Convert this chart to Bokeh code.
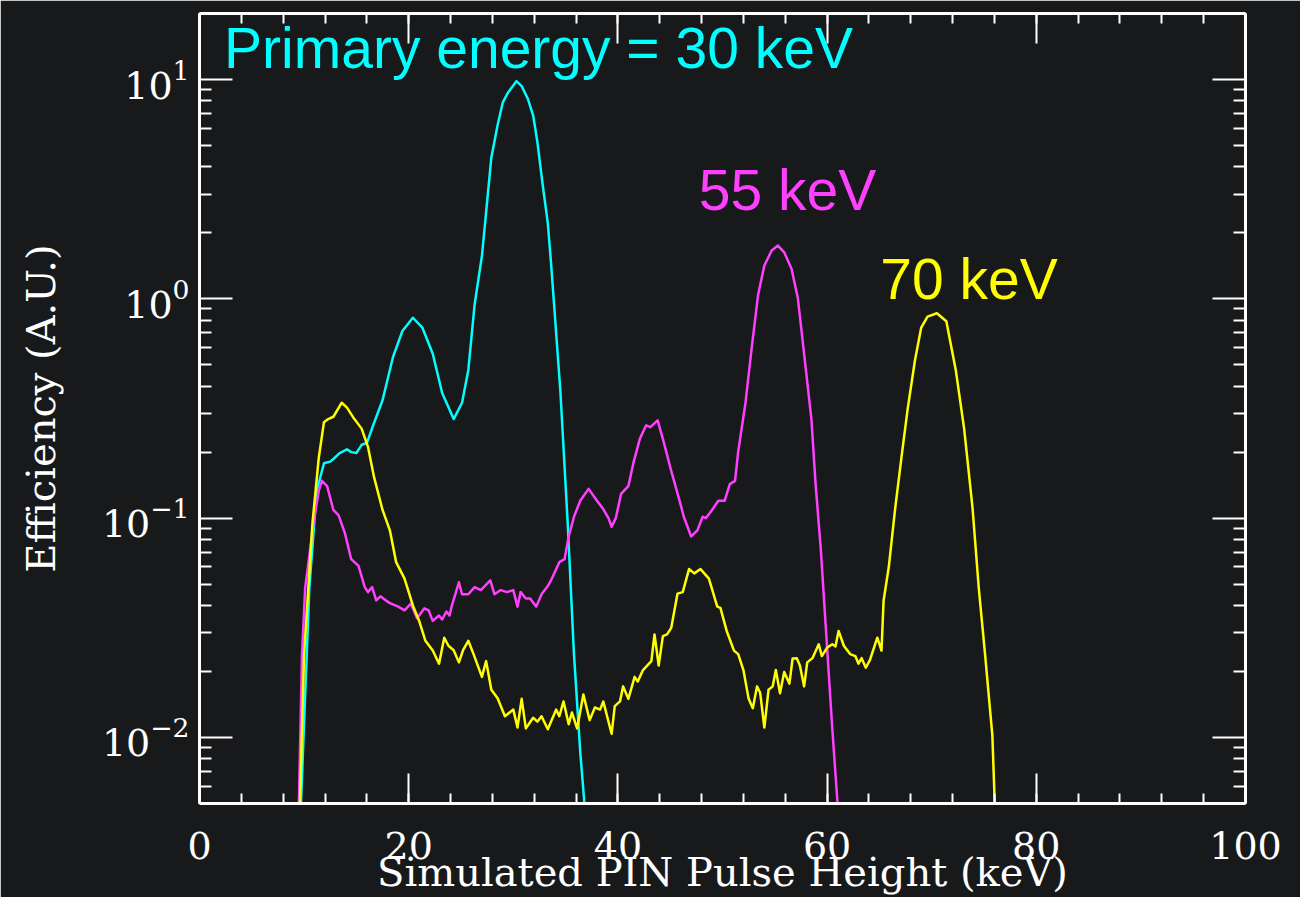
from bokeh.plotting import figure
from bokeh.models import (Range1d, FixedTicker, SingleIntervalTicker, LinearAxis,
                          LogAxis, Label, CustomJSTickFormatter)
from bokeh.embed import file_html
from bokeh.resources import INLINE

# ---------------- data ----------------
cyan_x = [9.5, 9.7, 10.5, 11.2, 11.9, 12.5, 12.9, 13.4, 14.1, 14.5, 15.0, 15.5, 16.0,
          16.6, 17.5, 18.5, 19.4, 20.4, 21.3, 22.3, 23.2, 24.3, 25.1, 25.7, 26.3,
          27.0, 27.3, 27.6, 27.9, 28.5, 29.0, 29.5, 30.3, 30.8, 31.4, 31.9, 32.3,
          32.8, 33.3, 33.6, 33.9, 34.5, 35.2, 35.8, 36.4, 36.8, 37.0]
cyan_y = [0.003, 0.005, 0.048, 0.133, 0.178, 0.181, 0.188, 0.198, 0.206, 0.2, 0.198,
          0.216, 0.22, 0.265, 0.345, 0.543, 0.714, 0.82, 0.74, 0.562, 0.372, 0.283,
          0.336, 0.474, 0.94, 1.57, 2.21, 3.12, 4.4, 6.2, 7.87, 8.73, 9.83, 9.33,
          8.15, 6.85, 5.2, 3.34, 2.21, 1.47, 0.94, 0.38, 0.095, 0.024, 0.0086, 0.005,
          0.003]

magenta_x = [9.4, 9.8, 10.1, 10.9, 11.4, 11.7, 12.2, 12.8, 13.3, 13.9, 14.5, 15.2,
             15.8, 16.1, 16.5, 16.9, 17.3, 17.8, 18.2, 19.0, 19.6, 20.2, 20.8, 21.5,
             21.9, 22.3, 22.9, 23.2, 23.6, 23.9, 24.1, 24.8, 25.1, 25.7, 26.3, 26.9,
             27.8, 28.2, 28.8, 29.4, 30.0, 30.4, 30.7, 31.2, 31.6, 32.2, 32.7, 33.3,
             33.6, 34.4, 34.9, 35.3, 35.8, 36.4, 37.2, 38.0, 38.6, 39.1, 39.4, 39.8,
             40.3, 41.0, 41.5, 42.1, 42.7, 43.1, 43.8, 44.3, 45.1, 45.9, 46.3, 47.0,
             47.6, 48.1, 48.4, 49.0, 49.6, 50.2, 50.7, 51.2, 51.5, 52.2, 52.8, 53.4,
             54.0, 54.7, 55.3, 55.9, 56.6, 57.2, 57.8, 58.5, 58.9, 59.4, 60.0, 60.5,
             61.0, 61.2]
magenta_y = [0.003, 0.024, 0.048, 0.095, 0.133, 0.148, 0.14, 0.109, 0.103, 0.0855,
             0.065, 0.0606, 0.0485, 0.046, 0.0485, 0.0422, 0.044, 0.0422, 0.041, 0.0395,
             0.038, 0.0408, 0.035, 0.0388, 0.038, 0.034, 0.036, 0.0345, 0.0375, 0.036,
             0.0395, 0.051, 0.045, 0.045, 0.0485, 0.047, 0.052, 0.045, 0.047, 0.046,
             0.047, 0.0395, 0.046, 0.043, 0.043, 0.0395, 0.045, 0.049, 0.052, 0.063,
             0.065, 0.0826, 0.1015, 0.12, 0.136, 0.12, 0.11, 0.1, 0.0914, 0.1, 0.129,
             0.14, 0.18, 0.23, 0.265, 0.26, 0.279, 0.23, 0.164, 0.12, 0.1015, 0.0826,
             0.088, 0.1015, 0.1, 0.109, 0.12, 0.12, 0.143, 0.148, 0.201, 0.336, 0.602,
             1.04, 1.42, 1.66, 1.75, 1.63, 1.37, 1.01, 0.562, 0.283, 0.143, 0.072,
             0.0257, 0.0109, 0.005, 0.003]

yellow_x = [9.3, 9.6, 10.0, 10.8, 11.4, 11.9, 12.3, 12.8, 13.6, 14.1, 14.7, 15.5, 16.1,
            16.7, 17.5, 18.2, 18.8, 19.6, 20.4, 21.0, 21.6, 22.3, 22.9, 23.4, 23.8,
            24.3, 24.8, 25.2, 25.7, 26.2, 27.0, 27.4, 27.9, 28.5, 29.2, 30.0, 30.4,
            30.8, 31.2, 31.9, 32.3, 32.7, 33.3, 34.1, 34.4, 34.8, 35.3, 35.6, 36.1,
            36.7, 37.3, 37.8, 38.3, 38.6, 39.4, 39.7, 40.2, 40.5, 41.0, 41.6, 41.9,
            42.4, 43.2, 43.5, 43.9, 44.3, 44.7, 45.1, 45.7, 46.2, 46.8, 47.3, 47.9,
            48.7, 49.5, 49.8, 50.4, 51.1, 51.5, 52.0, 52.5, 52.9, 53.3, 53.6, 54.0,
            54.4, 54.8, 55.1, 55.5, 55.9, 56.4, 56.7, 57.1, 57.4, 57.8, 58.1, 58.6,
            59.2, 59.5, 60.0, 60.5, 60.8, 61.1, 61.6, 62.2, 62.7, 63.0, 63.3, 63.7,
            64.1, 64.8, 65.2, 65.4, 65.9, 66.5, 67.1, 67.7, 68.4, 69.0, 69.6, 70.5,
            71.4, 72.3, 73.1, 73.9, 74.5, 75.1, 75.8, 76.1]
yellow_y = [0.003, 0.005, 0.024, 0.095, 0.188, 0.274, 0.283, 0.29, 0.336, 0.319, 0.288,
            0.256, 0.212, 0.153, 0.109, 0.088, 0.063, 0.053, 0.040, 0.034, 0.0276,
            0.0249, 0.0217, 0.0285, 0.0262, 0.025, 0.022, 0.025, 0.0276, 0.024, 0.0189,
            0.0223, 0.0165, 0.0151, 0.0125, 0.0134, 0.0111, 0.015, 0.011, 0.0123,
            0.0118, 0.0125, 0.0109, 0.0134, 0.0125, 0.0146, 0.0115, 0.013, 0.011,
            0.0157, 0.012, 0.0137, 0.0134, 0.0146, 0.0104, 0.0139, 0.0146, 0.0171,
            0.015, 0.0189, 0.018, 0.0203, 0.0223, 0.0295, 0.0213, 0.029, 0.0295, 0.0316,
            0.0453, 0.046, 0.0586, 0.056, 0.0586, 0.053, 0.0395, 0.039, 0.0306, 0.0249,
            0.024, 0.0203, 0.015, 0.0136, 0.0171, 0.016, 0.0111, 0.0165, 0.0171, 0.0203,
            0.0159, 0.0199, 0.0176, 0.0229, 0.023, 0.0213, 0.0171, 0.022, 0.023, 0.0266,
            0.0235, 0.0257, 0.0266, 0.026, 0.0306, 0.0262, 0.024, 0.0235, 0.0217, 0.023,
            0.0208, 0.0226, 0.0285, 0.0249, 0.042, 0.06, 0.11, 0.188, 0.314, 0.525, 0.74,
            0.83, 0.86, 0.79, 0.474, 0.256, 0.112, 0.048, 0.024, 0.0102, 0.004]

x_major = 20
y_major_ticks = [0.01, 0.1, 1, 10]
y_minor_ticks = [m * 10.0 ** e for e in range(-3, 2) for m in range(2, 10)]

labels = ["Primary energy = 30 keV", "55 keV", "70 keV"]

BG = "#18191b"
WHITE = "#ffffff"
CYAN = "#00ffff"
MAGENTA = "#ff40ff"
YELLOW = "#ffff00"
SERIF = "DejaVu Serif"
SANS = "Liberation Sans"

# ---------------- figure ----------------
p = figure(width=1300, height=897, x_range=Range1d(0, 100), y_range=Range1d(0.005, 20),
           y_axis_type="log", output_backend="svg", toolbar_location=None,
           min_border_left=199, min_border_right=55, min_border_top=13,
           min_border_bottom=92)
p.background_fill_color = BG
p.border_fill_color = BG
p.outline_line_color = None
p.xgrid.visible = False
p.ygrid.visible = False

xt = SingleIntervalTicker(interval=x_major, num_minor_ticks=5)
yt = FixedTicker(ticks=y_major_ticks, minor_ticks=y_minor_ticks)


def style_axis(ax, major_len, minor_len):
    ax.axis_line_color = WHITE
    ax.axis_line_width = 3
    ax.major_tick_line_color = WHITE
    ax.minor_tick_line_color = WHITE
    ax.major_tick_line_width = 2
    ax.minor_tick_line_width = 2
    ax.major_tick_in = major_len
    ax.major_tick_out = 0
    ax.minor_tick_in = minor_len
    ax.minor_tick_out = 0


xa = p.xaxis[0]
xa.ticker = xt
style_axis(xa, 30, 10)
xa.major_label_text_font = SERIF
xa.major_label_text_font_size = "38px"
xa.major_label_text_color = WHITE
xa.major_label_standoff = 28
xa.axis_label = "Simulated PIN Pulse Height (keV)"
xa.axis_label_text_font = SERIF
xa.axis_label_text_font_size = "40px"
xa.axis_label_text_font_style = "normal"
xa.axis_label_text_color = WHITE
xa.axis_label_standoff = -13

ya = p.yaxis[0]
ya.ticker = yt
style_axis(ya, 33, 12)
ya.major_label_text_font = SERIF
ya.major_label_text_font_size = "38px"
ya.major_label_text_color = WHITE
ya.major_label_standoff = 10
ya.axis_label = "Efficiency (A.U.)"
ya.axis_label_text_font = SERIF
ya.axis_label_text_font_size = "40px"
ya.axis_label_text_font_style = "normal"
ya.axis_label_text_color = WHITE
ya.axis_label_standoff = 35

blank = CustomJSTickFormatter(code="return ''")
top = LinearAxis(ticker=xt, formatter=blank, major_label_text_font_size="0px",
                 major_label_standoff=0)
style_axis(top, 30, 10)
p.add_layout(top, "above")
right = LogAxis(ticker=yt, formatter=blank, major_label_text_font_size="0px",
                major_label_standoff=0)
style_axis(right, 33, 12)
p.add_layout(right, "right")

for xs, ys, c in [(cyan_x, cyan_y, CYAN), (magenta_x, magenta_y, MAGENTA),
                  (yellow_x, yellow_y, YELLOW)]:
    p.line(xs, ys, line_color=c, line_width=2.5, line_join="round")

for txt, x, y, c in [(labels[0], 2.35, 13.87, CYAN), (labels[1], 47.73, 3.15, MAGENTA),
                     (labels[2], 65.08, 1.226, YELLOW)]:
    p.add_layout(Label(x=x, y=y, text=txt, text_color=c, text_font=SANS,
                       text_font_size="57px", text_baseline="alphabetic"))

open("out.html", "w").write(file_html(p, INLINE))
